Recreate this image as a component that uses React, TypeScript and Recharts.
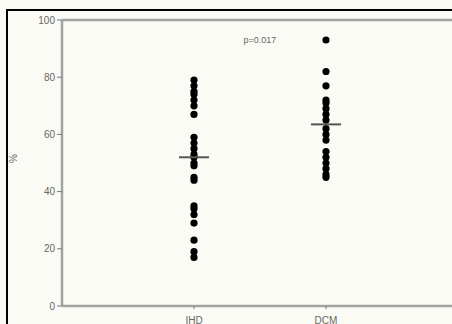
import { ScatterChart, Scatter, XAxis, YAxis, ReferenceLine, ReferenceDot } from "recharts";

const GROUPS = ["IHD", "DCM"];
const IHD_VALUES = [79, 77, 75, 74, 72, 70, 67, 59, 57, 55, 53, 52, 50, 49, 45, 44, 35, 34, 32, 29, 23, 19, 17];
const DCM_VALUES = [93, 82, 77, 72, 71, 69, 67, 65, 62, 60, 58, 54, 52, 50, 48, 46, 45];
const GROUP_MEANS = [52, 63.5];
const Y_TICKS = [0, 20, 40, 60, 80, 100];
const P_LABEL = "p=0.017";

const points = [
  ...IHD_VALUES.map((v) => ({ x: 1, y: v })),
  ...DCM_VALUES.map((v) => ({ x: 2, y: v })),
];
const means = GROUP_MEANS.map((m, i) => ({ x: i + 1, y: m }));

const FONT = "Liberation Sans, Arial, sans-serif";
const TICK_STYLE = { fill: "#666", fontSize: 10, fontFamily: FONT };
const AXIS_GRAY = "#a3a3a3";

function MeanBar(props: any) {
  const { cx, cy } = props;
  if (cx == null || cy == null) return null;
  return <line x1={cx - 15} x2={cx + 15} y1={cy} y2={cy} stroke="#555" strokeWidth={2} />;
}

export default function App() {
  return (
    <div style={{
      position: "absolute", left: 0, top: 0, width: 452, height: 324,
      overflow: "hidden", background: "#fbfbf5",
    }}>
      {/* black outer frame, only left + top fall inside the picture */}
      <div style={{
        position: "absolute", left: 6, top: 9, width: 600, height: 500,
        borderLeft: "2.5px solid #000", borderTop: "2.5px solid #000",
      }} />
      <div style={{ position: "absolute", left: 0, top: 0 }}>
        <ScatterChart width={470} height={340} margin={{ top: 20, right: 12, bottom: 4, left: 0 }}>
          <XAxis
            type="number" dataKey="x" domain={[0, 3]} ticks={[1, 2]}
            tickFormatter={(v) => GROUPS[v - 1] ?? ""}
            stroke={AXIS_GRAY} strokeWidth={2.5} tickSize={3} height={30}
            tick={{ ...TICK_STYLE, dy: 6 }} tickLine={{ stroke: "#777", strokeWidth: 1 }}
          />
          <YAxis
            type="number" dataKey="y" domain={[0, 100]} ticks={Y_TICKS}
            stroke={AXIS_GRAY} strokeWidth={2.5} tickSize={5} width={62}
            tick={TICK_STYLE} tickLine={{ stroke: "#777", strokeWidth: 1 }}
            label={{ value: "%", angle: -90, position: "insideLeft", offset: 13, fill: "#666", fontSize: 10, fontFamily: FONT }}
          />
          <ReferenceLine y={100} stroke={AXIS_GRAY} strokeWidth={2.5} />
          <Scatter data={points} fill="#000" isAnimationActive={false}
            shape={(p: any) => <circle cx={p.cx} cy={p.cy} r={3.6} fill="#000" />} />
          <Scatter data={means} isAnimationActive={false} shape={MeanBar} />
          <ReferenceDot x={1.5} y={93} r={0} fill="none" stroke="none"
            label={{ value: P_LABEL, position: "center", fill: "#666", fontSize: 9, fontFamily: FONT }} />
        </ScatterChart>
      </div>
    </div>
  );
}
